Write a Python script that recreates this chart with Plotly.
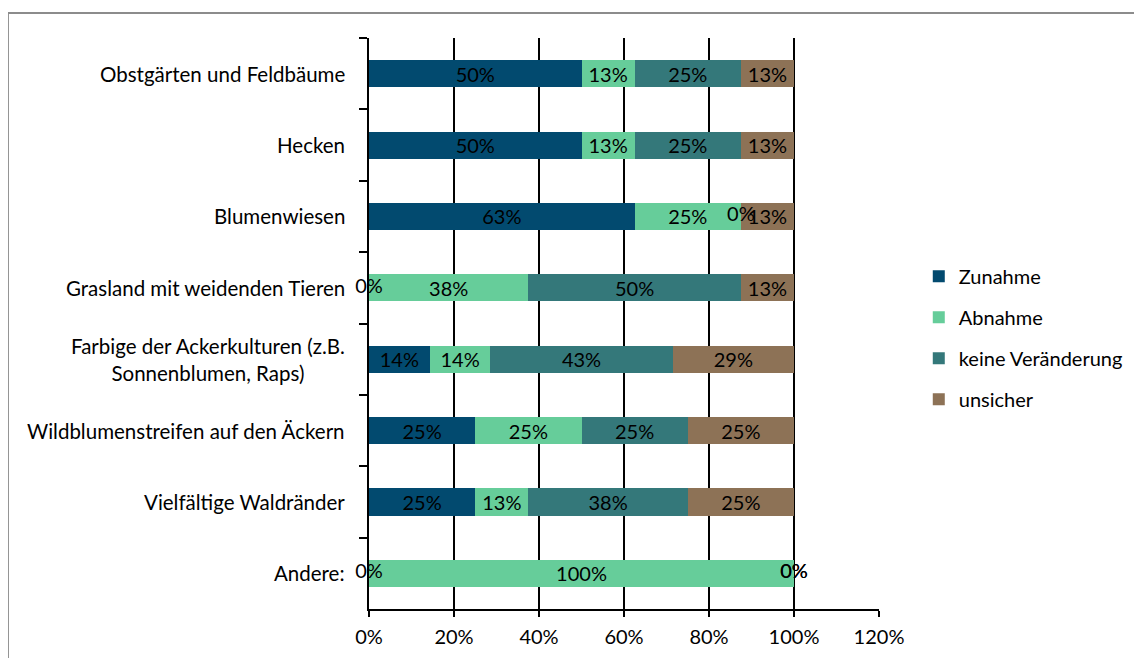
import math
import plotly.graph_objects as go

categories = [
    "Obstgärten und Feldbäume",
    "Hecken",
    "Blumenwiesen",
    "Grasland mit weidenden Tieren",
    "Farbige der Ackerkulturen (z.B.<br>Sonnenblumen, Raps)",
    "Wildblumenstreifen auf den Äckern",
    "Vielfältige Waldränder",
    "Andere:",
]
series_names = ["Zunahme", "Abnahme", "keine Veränderung", "unsicher"]
zunahme = [0.5, 0.5, 0.625, 0.0, 1/7, 0.25, 0.25, 0.0]
abnahme = [0.125, 0.125, 0.25, 0.375, 1/7, 0.25, 0.125, 1.0]
keine = [0.25, 0.25, 0.0, 0.5, 3/7, 0.25, 0.375, 0.0]
unsicher = [0.125, 0.125, 0.125, 0.125, 2/7, 0.25, 0.25, 0.0]
series_values = [zunahme, abnahme, keine, unsicher]
colors = ["#024a6f", "#66cd9a", "#34787a", "#8d7256"]
x_ticks = [0, 0.2, 0.4, 0.6, 0.8, 1.0, 1.2]

FONT = "Lato"
FS = 20


def pct(v):
    return f"{math.floor(v * 100 + 0.5 + 1e-9)}%"


fig = go.Figure()
cum = [0.0] * len(categories)
zero_x, zero_y = [], []
for name, vals, col in zip(series_names, series_values, colors):
    texts = [pct(v) if v > 0 else "" for v in vals]
    fig.add_trace(go.Bar(
        name=name, y=categories, x=vals, orientation="h",
        marker=dict(color=col, line=dict(width=0)),
        text=texts, textposition="inside", insidetextanchor="middle",
        textfont=dict(color="black", size=FS, family=FONT),
        legendgroup=name, hoverinfo="skip",
    ))
    for i, v in enumerate(vals):
        if v == 0:
            zero_x.append(cum[i])
            zero_y.append(categories[i])
        cum[i] += v

fig.add_trace(go.Scatter(
    x=zero_x, y=zero_y, mode="text", text=["0%"] * len(zero_x),
    textfont=dict(color="black", size=FS, family=FONT),
    showlegend=False, cliponaxis=False, hoverinfo="skip",
))

for c in categories:
    fig.add_annotation(
        x=0, xref="paper", xshift=-22, y=c, yref="y", text=c,
        xanchor="right", yanchor="middle", align="center", showarrow=False,
        font=dict(size=20.5, family=FONT, color="black"),
    )

fig.update_layout(
    width=1142, height=658,
    margin=dict(l=361, r=271, t=30, b=57),
    barmode="stack", bargap=0.62,
    plot_bgcolor="white", paper_bgcolor="white",
    font=dict(family=FONT, size=FS, color="black"),
    uniformtext=dict(minsize=FS, mode="show"),
    legend=dict(x=1.078, y=0.475, xanchor="left", yanchor="middle",
                traceorder="grouped", tracegroupgap=12,
                font=dict(size=FS, family=FONT)),
    xaxis=dict(range=[0, 1.2], tickvals=x_ticks, tickformat=".0%",
               showgrid=True, gridcolor="black", gridwidth=1.5,
               showline=True, linecolor="black", linewidth=2,
               ticks="outside", ticklen=6, tickcolor="black", tickwidth=2,
               ticklabelstandoff=3,
               zeroline=False, fixedrange=True),
    yaxis=dict(type="category", autorange="reversed", showticklabels=False,
               showline=True, linecolor="black", linewidth=2,
               ticks="outside", tickson="boundaries", ticklen=8,
               tickcolor="black", tickwidth=2, showgrid=False),
    shapes=[dict(type="rect", xref="paper", yref="paper",
                 x0=-0.708, x1=1.55, y0=-0.12, y1=1.0438,
                 line=dict(color="#8c8c8c", width=2), layer="below")],
)

fig.write_html("out.html")
